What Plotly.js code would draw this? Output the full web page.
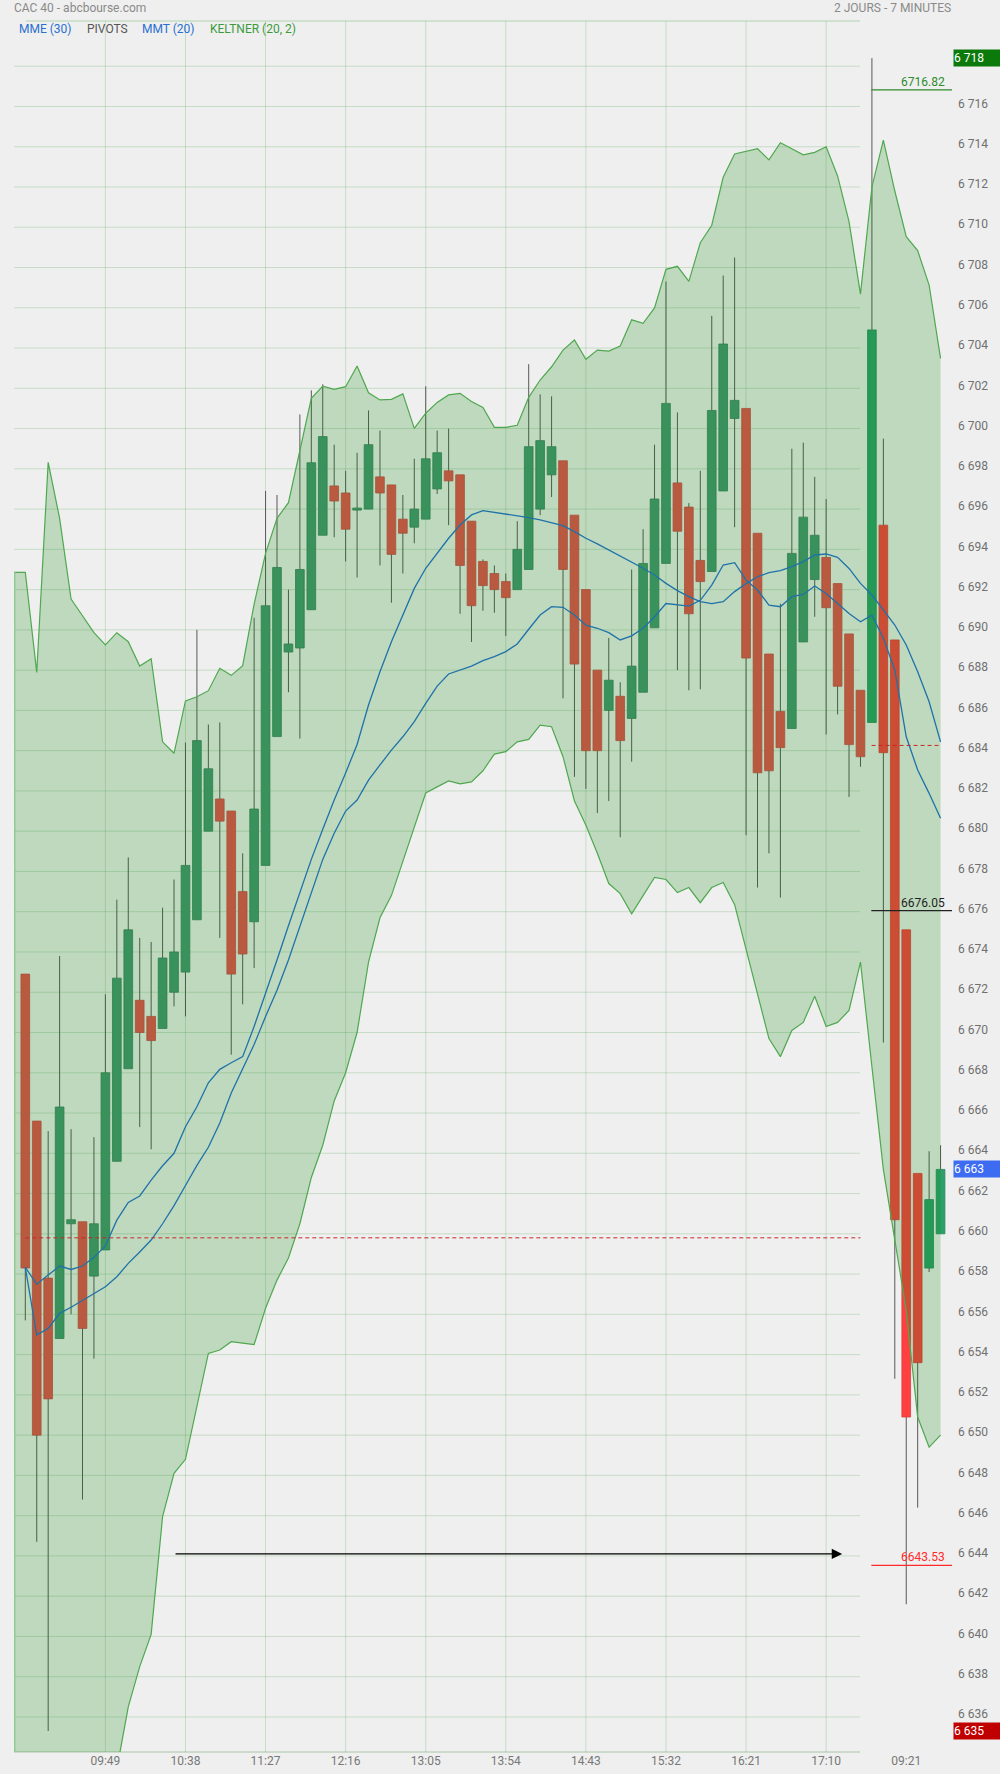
<!DOCTYPE html>
<html><head><meta charset="utf-8">
<script src="https://cdn.plot.ly/plotly-3.0.1.min.js"></script>
<style>html,body{margin:0;padding:0;background:#efefef;}#chart{width:1000px;height:1774px;}</style>
</head><body><div id="chart"></div>
<script>
// ---- OHLC, 7-minute candles, two sessions ----
const openP  = [6672.9,6665.6,6657.8,6654.8,6660.5,6660.6,6657.9,6659.2,6663.6,6668.2,6671.6,6670.8,6670.2,6672.0,6673.0,6675.6,6680.0,6681.6,6681.0,6677.0,6675.5,6678.3,6684.7,6688.9,6689.1,6691.0,6694.7,6697.15,6696.8,6695.95,6696.0,6697.6,6697.2,6695.5,6695.1,6695.5,6697.0,6697.9,6697.7,6695.4,6693.4,6692.8,6692.4,6692.0,6693.0,6696.0,6697.7,6698.4,6695.7,6692.0,6688.0,6686.0,6686.7,6685.6,6686.9,6690.1,6693.3,6697.3,6696.1,6693.45,6692.9,6696.9,6700.5,6701.0,6694.8,6688.8,6685.95,6685.1,6689.4,6692.5,6693.6,6692.3,6689.8,6687.0,6685.4,6695.2,6689.5,6675.1,6663.0,6658.3,6660.0];
const highP  = [6672.9,6665.6,6665.1,6673.8,6665.2,6660.6,6664.8,6671.9,6676.6,6678.7,6674.7,6674.5,6676.2,6677.6,6684.4,6690.0,6685.3,6685.4,6681.0,6678.9,6690.6,6696.9,6696.7,6692.0,6700.7,6701.9,6702.2,6699.2,6697.9,6698.8,6700.9,6699.9,6697.2,6696.7,6698.5,6702.1,6699.9,6700.0,6697.7,6695.4,6693.5,6693.2,6692.8,6695.4,6703.2,6701.7,6701.6,6698.4,6695.7,6692.0,6688.0,6689.6,6687.4,6693.0,6695.0,6699.2,6707.3,6700.8,6696.3,6697.9,6705.6,6707.6,6708.5,6701.0,6694.8,6688.8,6691.3,6699.0,6699.3,6697.6,6696.5,6692.3,6689.8,6687.0,6718.4,6699.5,6689.5,6675.1,6663.0,6664.1,6664.4];
const lowP   = [6655.7,6644.7,6635.3,6654.8,6656.0,6646.8,6653.8,6659.2,6663.6,6668.2,6665.3,6664.2,6670.2,6671.3,6670.8,6675.6,6680.0,6674.7,6668.9,6671.4,6673.2,6678.3,6684.7,6686.9,6684.6,6691.0,6694.7,6694.6,6693.4,6692.6,6696.0,6693.2,6691.35,6692.8,6694.3,6695.5,6696.75,6695.2,6690.8,6689.4,6690.95,6690.85,6689.7,6692.0,6693.0,6695.7,6696.6,6686.6,6682.7,6682.1,6680.9,6681.5,6679.7,6683.45,6686.9,6690.1,6693.3,6688.0,6687.0,6687.05,6692.9,6696.9,6695.1,6679.8,6677.2,6678.9,6676.7,6685.1,6689.4,6690.65,6684.8,6685.8,6681.7,6683.2,6685.4,6669.5,6652.8,6641.6,6646.4,6658.1,6660.0];
const closeP = [6658.3,6650.0,6651.8,6666.3,6660.7,6655.3,6660.5,6668.0,6672.7,6675.1,6670.0,6669.6,6673.7,6674.0,6678.3,6684.5,6683.1,6680.5,6672.9,6673.9,6681.1,6691.2,6693.1,6689.3,6693.0,6698.3,6699.6,6696.4,6695.0,6696.05,6699.2,6696.8,6693.75,6694.8,6696.0,6698.5,6698.8,6697.4,6693.2,6691.2,6692.2,6692.0,6691.6,6694.0,6699.1,6699.4,6699.1,6693.0,6688.3,6684.0,6684.0,6687.5,6684.5,6688.2,6693.3,6696.5,6701.25,6694.9,6690.8,6692.4,6700.9,6704.2,6701.4,6688.6,6682.9,6683.0,6684.15,6693.8,6695.6,6694.7,6691.1,6687.2,6684.3,6683.7,6704.9,6683.9,6660.7,6650.9,6653.6,6661.7,6663.2];
const day2Start = 74;

// ---- Keltner (20, 2): first point sits one slot left of the first candle ----
const keltnerUpper = [6692.86,6692.86,6687.89,6698.32,6695.54,6691.53,6690.70,6689.86,6689.25,6689.86,6689.41,6688.20,6688.57,6684.44,6683.87,6686.47,6686.68,6686.98,6688.09,6687.74,6688.22,6691.28,6693.80,6695.54,6696.32,6698.93,6701.50,6702.11,6701.95,6702.08,6703.11,6701.78,6701.42,6701.45,6701.72,6700.01,6700.76,6701.30,6701.67,6701.75,6701.34,6701.05,6700.06,6700.06,6700.16,6701.55,6702.41,6703.07,6703.90,6704.40,6703.44,6703.90,6703.85,6704.10,6705.40,6705.23,6705.99,6707.91,6708.06,6707.31,6709.23,6710.10,6712.48,6713.64,6713.76,6713.90,6713.35,6714.20,6713.90,6713.60,6713.72,6714.00,6712.55,6710.28,6706.68,6712.00,6714.33,6711.80,6709.53,6708.84,6707.13,6703.49];
const keltnerLower = [6623.7,6623.7,6627.1,6617.7,6621.5,6625.0,6626.0,6627.8,6629.5,6633.4,6636.5,6638.5,6640.1,6645.95,6648.1,6648.8,6651.5,6654.06,6654.23,6654.64,6654.57,6654.5,6656.3,6657.7,6658.8,6660.5,6662.8,6664.4,6666.6,6668.0,6670.0,6673.5,6675.7,6676.8,6678.5,6680.2,6681.9,6682.2,6682.5,6682.35,6682.45,6683.0,6683.83,6683.95,6684.44,6684.56,6685.27,6685.19,6683.7,6681.5,6680.3,6678.9,6677.4,6676.9,6675.9,6676.8,6677.7,6677.6,6676.95,6677.2,6676.45,6677.2,6677.45,6676.35,6674.1,6671.9,6669.7,6668.8,6670.1,6670.5,6671.8,6670.3,6670.5,6671.1,6673.5,6668.3,6663.2,6659.7,6656.2,6650.9,6649.4,6650.0];

// ---- moving averages ----
const mmt20 = [6658.33,6657.5,6657.95,6658.4,6658.23,6658.4,6658.83,6659.4,6660.68,6661.56,6661.88,6662.67,6663.38,6664.0,6665.32,6666.31,6667.5,6668.17,6668.5,6668.8,6670.3,6671.9,6673.6,6675.3,6677.0,6678.6,6680.1,6681.55,6682.89,6684.31,6686.27,6687.92,6689.41,6690.74,6692.06,6693.06,6693.83,6694.55,6695.21,6695.71,6695.92,6695.84,6695.76,6695.68,6695.58,6695.46,6695.33,6695.18,6694.88,6694.55,6694.27,6693.97,6693.67,6693.39,6693.06,6692.73,6692.31,6691.95,6691.65,6691.4,6691.3,6691.4,6691.9,6692.3,6692.64,6692.84,6692.94,6693.14,6693.39,6693.72,6693.77,6693.6,6693.05,6692.31,6691.73,6690.99,6690.24,6689.25,6687.92,6686.43,6684.44];
const mme30 = [6658.33,6654.97,6655.3,6656.05,6656.35,6656.68,6657.04,6657.37,6657.87,6658.53,6659.1,6659.69,6660.5,6661.4,6662.4,6663.4,6664.3,6665.5,6667.0,6668.2,6669.4,6670.8,6672.1,6673.6,6675.3,6677.0,6678.6,6679.9,6681.0,6681.55,6682.54,6683.29,6684.03,6684.69,6685.44,6686.35,6687.21,6687.81,6688.01,6688.2,6688.47,6688.67,6688.92,6689.3,6690.03,6690.74,6691.15,6691.12,6690.74,6690.23,6690.08,6689.86,6689.5,6689.7,6690.08,6690.65,6691.31,6691.23,6691.18,6691.47,6692.22,6693.22,6693.34,6692.47,6691.98,6691.23,6691.15,6691.65,6691.76,6692.18,6691.81,6691.31,6690.81,6690.4,6690.73,6689.58,6688.01,6684.69,6683.04,6681.88,6680.64];

// ---- pivots, levels, axis labels ----
const pivotLevels = [6659.8, 6684.26];          // session 1, session 2
const markLevels  = [6716.82, 6676.05, 6643.53];
const markColors  = ['#2e8b2e', '#222222', '#ff2a2a'];
const arrowLevel = 6644.1, arrowFrom = 13, arrowTo = 71.4;
const tickIdx    = [7,14,21,28,35,42,49,56,63,70,77];
const tickLabels = ['09:49','10:38','11:27','12:16','13:05','13:54','14:43','15:32','16:21','17:10','09:21'];

const GRID = 'rgba(0,128,0,0.17)';
const BG = '#efefef';
const idx = closeP.map((_, i) => i);
const bandIdx = keltnerUpper.map((_, i) => i - 1);

// bodies
const up = idx.map(i => closeP[i] >= openP[i]);
const d2 = idx.map(i => i >= day2Start);
const bodyFill = idx.map(i => up[i] ? (d2[i] ? '#2f9f6c' : '#489673') : (d2[i] ? '#ff4040' : '#e85050'));
const bodyLine = idx.map(i => up[i] ? (d2[i] ? '#2a8a5e' : '#3b7f5f') : (d2[i] ? '#e03a3a' : '#cf4646'));
const bodyBase = idx.map(i => Math.min(openP[i], closeP[i]));
const bodyLen = idx.map(i => Math.max(Math.abs(closeP[i] - openP[i]), 0.1));

// wicks (upper and lower parts only)
const wx = [], wy = [];
idx.forEach(i => {
  const top = Math.max(openP[i], closeP[i]), bot = Math.min(openP[i], closeP[i]);
  if (highP[i] > top) { wx.push(i, i, null); wy.push(top, highP[i], null); }
  if (lowP[i] < bot) { wx.push(i, i, null); wy.push(bot, lowP[i], null); }
});

const traces = [
  {type: 'bar', x: idx, y: bodyLen, base: bodyBase, width: 0.76,
   marker: {color: bodyFill, line: {color: bodyLine, width: 0.8}}, hoverinfo: 'skip'},
  {type: 'scatter', mode: 'lines', x: wx, y: wy, line: {color: '#585858', width: 1}, hoverinfo: 'skip'},
  {type: 'scatter', mode: 'lines', x: bandIdx, y: keltnerLower, line: {color: '#4fa84f', width: 1.2}, hoverinfo: 'skip'},
  {type: 'scatter', mode: 'lines', x: bandIdx, y: keltnerUpper, fill: 'tonexty', fillcolor: 'rgba(0,128,0,0.2)',
   line: {color: '#4fa84f', width: 1.2}, hoverinfo: 'skip'},
  {type: 'scatter', mode: 'lines', x: [bandIdx[0] + 0.07, bandIdx[0] + 0.07], y: [keltnerLower[0], keltnerUpper[0]],
   line: {color: '#8fcb8f', width: 1.6}, hoverinfo: 'skip'},
  {type: 'scatter', mode: 'lines', x: idx, y: mme30, line: {color: '#1f72a8', width: 1.3}, hoverinfo: 'skip'},
  {type: 'scatter', mode: 'lines', x: idx, y: mmt20, line: {color: '#1f72a8', width: 1.3}, hoverinfo: 'skip'},
  {type: 'scatter', mode: 'lines', x: [0, day2Start - 1], y: [pivotLevels[0], pivotLevels[0]],
   line: {color: '#c62828', width: 1, dash: '4px,3px'}, hoverinfo: 'skip'},
  {type: 'scatter', mode: 'lines', x: [day2Start - 0.03, idx[idx.length - 1]], y: [pivotLevels[1], pivotLevels[1]],
   line: {color: '#c62828', width: 1, dash: '4px,3px'}, hoverinfo: 'skip'}
];
markLevels.forEach((v, k) => traces.push({type: 'scatter', mode: 'lines', x: [day2Start - 0.05, 81], y: [v, v],
  line: {color: markColors[k], width: 1.2}, hoverinfo: 'skip'}));

const fmt = v => String(Math.round(v)).replace(/\B(?=(\d{3})+(?!\d))/g, ' ');
const yTicks = []; for (let v = 6636; v <= 6718; v += 2) yTicks.push(v);

const hiAll = Math.max(...highP), loAll = Math.min(...lowP), last = closeP[closeP.length - 1];
const boxed = [hiAll, last, loAll].map(Math.round);
// a tick label hidden under a coloured price box is left blank
const yTickText = yTicks.map(v => boxed.includes(v) ? '' : fmt(v));

const annotations = [
  {xref: 'paper', yref: 'paper', x: 0, y: 1, xanchor: 'left', yanchor: 'middle', yshift: 13, xshift: -2,
   text: 'CAC 40 - abcbourse.com', showarrow: false, font: {size: 12, color: '#8a8a8a'}},
  {xref: 'paper', yref: 'paper', x: 1, y: 1, xanchor: 'right', yanchor: 'middle', yshift: 13, xshift: 1,
   text: '2 JOURS - 7 MINUTES', showarrow: false, font: {size: 12, color: '#8a8a8a'}},
  {xref: 'paper', yref: 'paper', x: 0, y: 1, xanchor: 'left', yanchor: 'middle', yshift: -8, xshift: 3,
   text: 'MME (30)', showarrow: false, font: {size: 12, color: '#2a6fcf'}},
  {xref: 'paper', yref: 'paper', x: 0, y: 1, xanchor: 'left', yanchor: 'middle', yshift: -8, xshift: 71,
   text: 'PIVOTS', showarrow: false, font: {size: 12, color: '#555555'}},
  {xref: 'paper', yref: 'paper', x: 0, y: 1, xanchor: 'left', yanchor: 'middle', yshift: -8, xshift: 126,
   text: 'MMT (20)', showarrow: false, font: {size: 12, color: '#2a6fcf'}},
  {xref: 'paper', yref: 'paper', x: 0, y: 1, xanchor: 'left', yanchor: 'middle', yshift: -8, xshift: 194,
   text: 'KELTNER (20, 2)', showarrow: false, font: {size: 12, color: '#3c9a3c'}},
  {x: arrowTo, y: arrowLevel, ax: arrowFrom, ay: arrowLevel, axref: 'x', ayref: 'y', text: '', showarrow: true,
   arrowhead: 2, arrowsize: 1.6, arrowwidth: 1.3, arrowcolor: '#000000', standoff: 0}
];
markLevels.forEach((v, k) => annotations.push({x: 80.57, y: v, xanchor: 'right', yanchor: 'bottom', yshift: -1,
  text: v.toFixed(2), showarrow: false, font: {size: 12, color: markColors[k]}}));
[[hiAll, '#0b7a0b'], [last, '#3d6cf2'], [loAll, '#c00000']].forEach(([v, c]) => annotations.push({
  xref: 'paper', x: 1, y: v, xanchor: 'left', yanchor: 'middle', xshift: 1, width: 48, height: 16, align: 'left',
  bgcolor: c, borderpad: 0, text: fmt(v), showarrow: false, font: {size: 12, color: '#ffffff'}}));

// grid drawn as shapes so it stops where the reference grid stops
const gl = (860 - 14) / 938, gl0 = (26 - 14) / 938;
const shapes = [];
yTicks.forEach(v => shapes.push({type: 'line', xref: 'paper', yref: 'y', x0: 0, x1: gl, y0: v, y1: v,
  line: {color: GRID, width: 1}, layer: 'below'}));
tickIdx.filter(i => i < day2Start).forEach(i => shapes.push({type: 'line', xref: 'x', yref: 'paper', x0: i, x1: i,
  y0: 0, y1: 1, line: {color: GRID, width: 1}, layer: 'below'}));
shapes.push({type: 'line', xref: 'paper', yref: 'paper', x0: gl0, x1: gl, y0: 1, y1: 1, line: {color: GRID, width: 1.5}, layer: 'below'});
shapes.push({type: 'line', xref: 'paper', yref: 'paper', x0: 0, x1: gl, y0: 0, y1: 0, line: {color: 'rgba(0,100,0,0.2)', width: 1.5}, layer: 'below'});

const layout = {
  width: 1000, height: 1774,
  margin: {l: 14, r: 48, t: 21, b: 22, pad: 0},
  paper_bgcolor: BG, plot_bgcolor: BG, showlegend: false,
  separators: '. ',
  font: {family: 'Roboto, sans-serif', size: 12, color: '#707070'},
  xaxis: {range: [-0.988, 81.0], tickmode: 'array', tickvals: tickIdx, ticktext: tickLabels, showgrid: false,
          zeroline: false, showline: false, ticks: '', fixedrange: true,
          tickfont: {size: 12, color: '#777777'}},
  yaxis: {range: [6634.26, 6720.245], side: 'right', tickmode: 'array', tickvals: yTicks, ticktext: yTickText,
          showgrid: false, zeroline: false, showline: false, ticks: '',
          fixedrange: true, tickfont: {size: 12, color: '#707070'}, ticklabelshift: -3, ticklabelstandoff: 5},
  bargap: 0,
  shapes: shapes,
  annotations: annotations
};
Plotly.newPlot('chart', traces, layout, {displayModeBar: false, staticPlot: true});
</script></body></html>
